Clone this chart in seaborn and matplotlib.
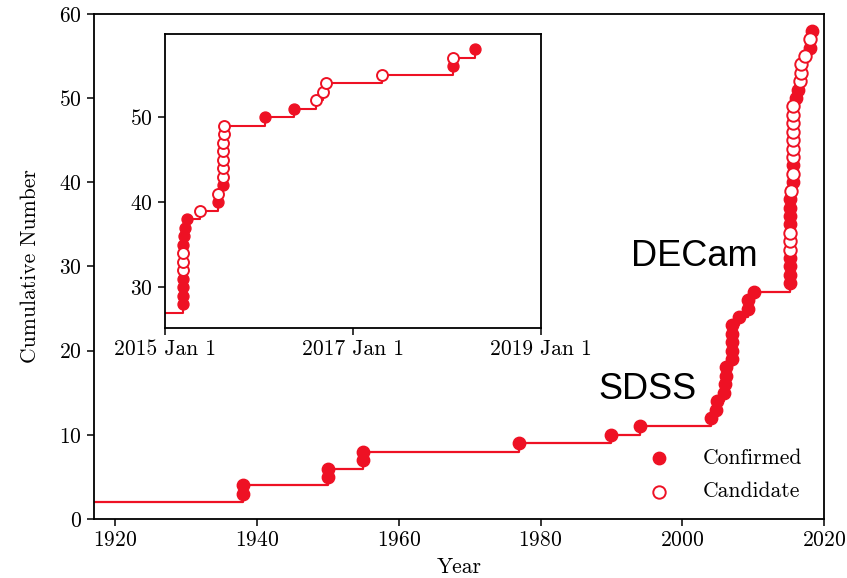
import matplotlib
matplotlib.use("Agg")
import matplotlib.pyplot as plt
import numpy as np
import pandas as pd
import seaborn as sns

# ---------------- data ----------------
# satellites known before the first discovery shown (LMC, SMC)
start_year = 1900.0
start_count = 2

disc_year = [
    1938.0, 1938.0, 1950.0, 1950.0, 1955.0, 1955.0, 1977.0, 1990.0, 1994.0,
    # SDSS era
    2004.0, 2004.75, 2004.9, 2005.85, 2006.0, 2006.1, 2006.2, 2007.0, 2007.05,
    2007.07, 2007.07, 2007.07, 2008.0, 2009.2, 2009.2, 2010.1,
    # DECam era
    2015.19, 2015.19, 2015.19, 2015.19, 2015.19, 2015.19, 2015.19, 2015.19,
    2015.20, 2015.21, 2015.23, 2015.37, 2015.56, 2015.56, 2015.62, 2015.62,
    2015.62, 2015.62, 2015.62, 2015.62, 2015.63, 2015.63, 2016.06, 2016.37,
    2016.61, 2016.68, 2016.71, 2017.31, 2018.06, 2018.06, 2018.30,
]
cum_number = [
    3, 4, 5, 6, 7, 8, 9, 10, 11,
    12, 13, 14, 15, 16, 17, 18, 19, 20, 21, 22, 23, 24, 25, 26, 27,
    28, 29, 30, 31, 32, 33, 34, 35, 36, 37, 38, 39, 40, 41, 42, 43,
    44, 45, 46, 47, 48, 49, 50, 51, 52, 53, 54, 55, 56, 57, 58,
]
status = (
    ["Confirmed"] * 9
    + ["Confirmed"] * 16
    + ["Confirmed"] * 4 + ["Candidate"] * 3 + ["Confirmed"] * 4
    + ["Candidate", "Confirmed", "Candidate", "Confirmed"]
    + ["Candidate"] * 7
    + ["Confirmed", "Confirmed"]
    + ["Candidate"] * 4
    + ["Confirmed", "Candidate", "Confirmed"]
)

main_xticks = [1920, 1940, 1960, 1980, 2000, 2020]
main_yticks = [0, 10, 20, 30, 40, 50, 60]
inset_xticks = [2015.0, 2017.0, 2019.0]
inset_xticklabels = ["2015 Jan 1", "2017 Jan 1", "2019 Jan 1"]
inset_yticks = [30, 40, 50]

df = pd.DataFrame({"year": disc_year, "n": cum_number, "status": status})
line_df = pd.DataFrame({"year": [start_year] + disc_year,
                        "n": [start_count] + cum_number})

RED = "#ee1124"

# ---------------- style ----------------
sns.set_style("ticks")
plt.rcParams["font.family"] = ["cmr10", "DejaVu Serif"]
plt.rcParams["axes.formatter.use_mathtext"] = True
plt.rcParams["mathtext.fontset"] = "cm"
for k in ["text.color", "axes.labelcolor", "xtick.color", "ytick.color",
          "axes.edgecolor"]:
    plt.rcParams[k] = "black"
FS = 15.5

fig = plt.figure(figsize=(8.47, 5.78), dpi=100)
ax = fig.add_axes([0.111, 0.102, 0.862, 0.874])


def draw(a, s, lw):
    sns.lineplot(data=line_df, x="year", y="n", estimator=None, sort=True,
                 drawstyle="steps-post", color=RED, lw=lw, ax=a, zorder=2,
                 legend=False)
    conf = df[df.status == "Confirmed"]
    cand = df[df.status == "Candidate"]
    sns.scatterplot(data=conf, x="year", y="n", color=RED, edgecolor=RED,
                    s=s, linewidth=1.0, ax=a, zorder=3, label="Confirmed")
    sns.scatterplot(data=cand, x="year", y="n", facecolor="white",
                    edgecolor=RED, s=s, linewidth=1.4, ax=a, zorder=3,
                    label="Candidate")


draw(ax, 80, 1.6)
ax.set_xlim(1917, 2020)
ax.set_ylim(0, 60)
ax.set_xticks(main_xticks)
ax.set_yticks(main_yticks)
ax.set_xlabel("Year", fontsize=FS, labelpad=5)
ax.set_ylabel("Cumulative Number", fontsize=FS, labelpad=14)
ax.tick_params(labelsize=FS, direction="out", length=5, width=1.1,
               colors="black")
for sp in ax.spines.values():
    sp.set_linewidth(1.3)
    sp.set_color("black")

ax.text(1992.7, 30.0, "DECam", fontsize=26, family="Liberation Sans",
        ha="left", va="baseline", color="black")
ax.text(1988.2, 14.2, "SDSS", fontsize=26, family="Liberation Sans",
        ha="left", va="baseline", color="black")

leg = ax.legend(loc="lower right", frameon=False, fontsize=FS,
                handletextpad=1.0, labelspacing=0.65,
                bbox_to_anchor=(0.99, 0.005), borderaxespad=0.3)
for t in leg.get_texts():
    t.set_color("black")

# ---------------- inset ----------------
ins = fig.add_axes([0.1948, 0.4325, 0.4439, 0.5085])
ins.set_facecolor("white")
draw(ins, 62, 1.5)
if ins.get_legend() is not None:
    ins.get_legend().remove()
ins.set_xlim(2015.0, 2019.0)
ins.set_ylim(25.2, 59.8)
ins.set_xticks(inset_xticks)
ins.set_xticklabels(inset_xticklabels)
ins.set_yticks(inset_yticks)
ins.set_xlabel("")
ins.set_ylabel("")
ins.tick_params(labelsize=FS, direction="out", length=5, width=1.1,
                colors="black")
for sp in ins.spines.values():
    sp.set_linewidth(1.3)
    sp.set_color("black")

fig.savefig("out.png", dpi=100)
